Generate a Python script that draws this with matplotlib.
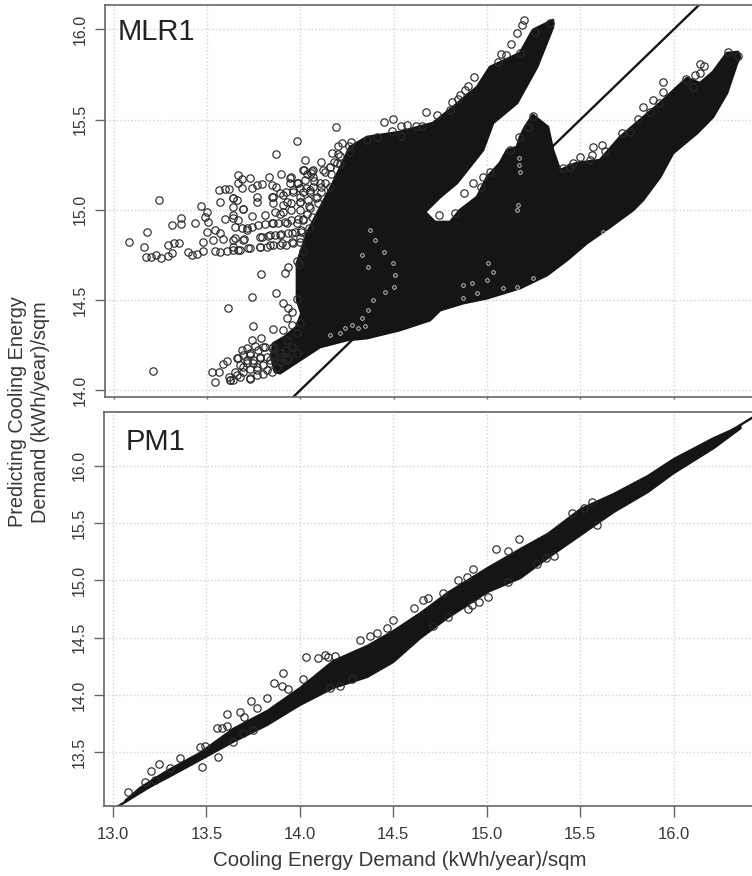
import matplotlib
matplotlib.use("Agg")
import matplotlib.pyplot as plt
import numpy as np

plt.rcParams['font.family'] = ['Liberation Sans', 'DejaVu Sans']

INK = '#151515'
CIRCLE = '#2a2a2a'
TEXT = '#383838'
FRAME = '#666666'

# top panel (MLR1): outline of the solid black part of the cloud
mlr_cloud_x = [13.876, 13.984, 14.092, 14.238, 14.346, 14.524, 14.686, 14.741, 14.865, 14.995, 15.173,
               15.319, 15.427, 15.535, 15.659, 15.784, 15.838, 15.93, 16.0, 16.13, 16.216, 16.292, 16.346,
               16.362, 16.351, 16.292, 16.216, 16.146, 16.076, 16.022, 15.93, 15.822, 15.714, 15.605, 15.481,
               15.389, 15.351, 15.324, 15.243, 15.2, 15.173, 15.157, 15.103, 15.065, 14.995, 14.941, 14.849,
               14.795, 14.714, 14.659, 14.741, 14.832, 14.973, 15.027, 15.157, 15.265, 15.351, 15.351, 15.243,
               15.173, 15.011, 14.941, 14.811, 14.703, 14.524, 14.346, 14.254, 14.162, 14.022, 13.968, 13.968,
               13.992, 13.965, 13.902, 13.839, 13.83, 13.848]
mlr_cloud_y = [14.089, 14.162, 14.235, 14.274, 14.285, 14.33, 14.385, 14.441, 14.48, 14.508, 14.564,
               14.637, 14.721, 14.816, 14.905, 15.0, 15.056, 15.184, 15.318, 15.43, 15.52, 15.654, 15.821,
               15.855, 15.883, 15.877, 15.771, 15.709, 15.737, 15.687, 15.598, 15.503, 15.408, 15.279, 15.263,
               15.223, 15.335, 15.464, 15.531, 15.464, 15.408, 15.352, 15.335, 15.263, 15.184, 15.073, 15.0,
               14.933, 14.933, 14.989, 15.073, 15.151, 15.335, 15.486, 15.598, 15.799, 16.022, 16.061, 16.006,
               15.877, 15.799, 15.687, 15.575, 15.486, 15.436, 15.408, 15.352, 15.151, 14.872, 14.704, 14.497,
               14.423, 14.348, 14.292, 14.255, 14.18, 14.097]

# top panel: single circles that can be told apart
mlr_x = [13.06, 13.157, 13.139, 13.15, 13.177, 13.206, 13.233, 13.272, 13.303, 13.33, 13.272, 13.29, 13.29, 13.341,
         13.341, 13.224, 13.417, 13.449, 13.48, 13.471, 13.489, 13.48, 13.462, 13.462, 13.38, 13.398, 13.426,
         13.525, 13.552, 13.588, 13.624, 13.651, 13.705, 13.516, 13.57, 13.525, 13.552, 13.681, 13.633, 13.579,
         13.624, 13.678, 13.552, 13.624, 13.723, 13.795, 13.696, 13.768, 13.822, 13.876, 13.939, 13.768, 13.822,
         13.885, 13.939, 13.984, 13.75, 13.84, 13.912, 13.984, 13.84, 13.912, 13.966, 14.002, 13.876, 14.02,
         13.773, 13.903, 13.921, 13.966, 13.723, 13.853, 13.597, 13.894, 13.966, 13.728, 13.838, 13.921, 13.939,
         13.912, 13.939, 13.894, 13.725, 13.775, 13.741, 13.786, 13.669, 13.696, 13.588, 13.642, 13.188, 13.507,
         13.548, 13.525, 13.606, 13.66, 13.714, 13.633, 13.678, 13.732, 13.768, 13.822, 13.804, 13.858, 13.714,
         13.876, 13.84, 13.912, 13.966, 13.939, 13.912, 13.966, 13.984, 13.57, 13.6, 13.70, 13.75,
         13.548, 13.579, 13.602, 13.651, 13.669, 13.712, 13.651, 13.669, 13.723, 13.75, 13.78, 13.816, 13.881,
         13.935, 13.831, 13.853, 13.93, 13.966, 14.011, 13.853, 13.966, 14.009, 14.006, 14.051, 14.11, 14.146,
         14.18, 14.191, 14.213, 14.159, 14.188, 14.258, 14.254, 14.436, 14.489, 14.48, 14.53, 14.564, 14.53,
         14.665, 14.611, 14.399, 14.344, 13.624, 13.75, 13.831, 13.894, 13.948, 14.038, 14.092, 14.146, 14.2,
         14.056, 13.984, 14.074,
         14.722, 14.641, 14.803, 14.839, 14.875, 14.893, 14.926, 14.848, 14.794, 15.07, 15.097, 15.055, 15.122,
         15.155, 15.182, 15.196, 15.254, 15.338, 15.173, 15.947, 15.944, 15.893, 15.839, 15.926, 15.875, 15.812,
         15.722, 15.767, 15.614, 15.569, 15.632, 15.50, 15.56, 15.457, 15.403, 15.443, 15.551, 16.146, 16.169,
         16.118, 16.146, 16.073, 16.11, 16.295, 16.353, 15.169, 15.218, 15.245, 15.119, 15.01, 14.974, 14.92,
         14.872, 14.965, 14.735, 14.82]
mlr_y = [14.82, 14.877, 14.792, 14.74, 14.74, 14.749, 14.73, 14.805, 14.814, 14.814, 14.743, 14.758, 14.916, 14.954,
         14.92, 15.056, 14.929, 15.022, 14.991, 14.963, 14.935, 14.879, 14.823, 14.773, 14.767, 14.749, 14.754,
         14.773, 14.767, 14.773, 14.777, 14.777, 14.786, 14.832, 14.836, 14.888, 14.87, 14.836, 14.842, 14.948,
         14.972, 15.004, 15.047, 15.019, 14.967, 14.972, 14.898, 14.851, 14.86, 14.86, 14.87, 14.795, 14.805,
         14.814, 14.823, 14.842, 15.047, 15.037, 15.047, 15.047, 14.926, 14.926, 14.926, 14.944, 14.98, 14.98,
         14.641, 14.646, 14.68, 14.717, 14.516, 14.535, 14.455, 14.479, 14.505, 14.354, 14.333, 14.451, 14.432,
         14.395, 14.358, 14.33, 14.274, 14.283, 14.24, 14.237, 14.218, 14.227, 14.157, 14.171, 14.101, 14.095,
         14.095, 14.041, 14.05, 14.069, 14.06, 14.097, 14.125, 14.144, 14.181, 14.162, 14.106, 14.125, 14.19,
         14.181, 14.237, 14.274, 14.311, 14.237, 14.162, 14.199, 14.367, 14.14, 14.07, 14.16, 14.106,
         15.112, 15.117, 15.117, 15.195, 15.171, 15.18, 15.149, 15.126, 15.121, 15.139, 15.145, 15.186, 15.201,
         15.182, 15.139, 15.13, 15.149, 15.153, 15.167, 15.316, 15.385, 15.279, 15.223, 15.22, 15.223, 15.242,
         15.463, 15.359, 15.372, 15.32, 15.313, 15.38, 15.326, 15.493, 15.508, 15.441, 15.469, 15.478, 15.413,
         15.549, 15.469, 15.409, 15.391, 15.065, 15.071, 15.074, 15.084, 15.102, 15.112, 15.149, 15.13, 15.26,
         15.186, 15.074, 15.074,
         15.531, 15.469, 15.605, 15.618, 15.67, 15.693, 15.741, 15.642, 15.558, 15.871, 15.866, 15.828, 15.927,
         15.99, 16.033, 16.061, 15.996, 16.046, 15.879, 15.713, 15.659, 15.614, 15.577, 15.599, 15.549, 15.506,
         15.428, 15.437, 15.363, 15.35, 15.331, 15.294, 15.307, 15.261, 15.233, 15.242, 15.279, 15.815, 15.806,
         15.754, 15.763, 15.735, 15.689, 15.884, 15.86, 15.406, 15.465, 15.525, 15.335, 15.214, 15.186, 15.149,
         15.098, 15.13, 14.972, 14.983]

# top panel: the crowded streaks left of the black part
streak_x = [13.776, 13.812, 13.848, 13.884, 13.92, 13.956, 13.992,
            13.767, 13.803, 13.839, 13.875, 13.911, 13.947, 13.983,
            13.722, 13.758, 13.794, 13.83, 13.866, 13.902, 13.938, 13.974,
            13.839, 13.875, 13.911, 13.947, 13.983, 14.019, 14.055, 14.1, 13.893, 13.938, 13.983, 14.028, 14.073,
            13.848, 13.893, 13.938, 13.983, 14.037,
            13.623, 13.641, 13.623, 13.65, 13.677, 13.632, 13.668, 13.695, 13.623, 13.677, 13.713, 13.659, 13.623,
            14.055, 14.046, 14.119, 14.146, 14.182, 14.001, 13.929, 13.974,
            13.623, 13.605, 13.641, 13.677, 13.713, 13.749, 13.785, 13.821, 13.713, 13.749, 13.785, 13.83, 13.659,
            13.695, 13.731, 13.767, 13.803, 13.839, 13.875, 13.911, 13.677, 13.713, 13.65, 13.758, 13.794, 13.83,
            13.875, 13.92,
            14.02, 14.06, 14.1, 14.04, 14.0, 14.08, 14.03, 14.0, 14.05, 14.03, 14.15, 14.2, 14.25, 14.12, 14.1,
            14.17, 13.99, 14.0, 13.98]
streak_y = [14.851, 14.855, 14.86, 14.866, 14.87, 14.879, 14.888,
            14.795, 14.795, 14.805, 14.805, 14.805, 14.814, 14.823,
            14.907, 14.916, 14.922, 14.926, 14.929, 14.935, 14.944, 14.948,
            15.075, 15.093, 15.102, 15.112, 15.121, 15.121, 15.13, 15.13, 15.028, 15.037, 15.047, 15.056, 15.065,
            14.991, 14.991, 15.0, 15.0, 15.009,
            15.065, 15.056, 14.954, 14.944, 15.006, 14.907, 14.898, 14.888, 14.832, 14.832, 14.786, 14.777, 14.795,
            15.223, 15.205, 15.214, 15.242, 15.261, 15.223, 15.177, 15.149,
            14.05, 14.05, 14.078, 14.097, 14.115, 14.125, 14.134, 14.143, 14.059, 14.078, 14.087, 14.097, 14.134,
            14.143, 14.162, 14.171, 14.18, 14.19, 14.199, 14.218, 14.19, 14.199, 14.171, 14.218, 14.236, 14.227,
            14.152, 14.171,
            15.2, 15.16, 15.1, 15.1, 15.1, 15.04, 15.02, 14.95, 14.96, 14.9, 15.2, 15.3, 15.36, 15.15, 15.27,
            15.27, 14.88, 14.77, 14.7]

# top panel: thin light seams that run through the black cloud
seam_x = [14.362, 14.389, 14.438, 14.486, 14.497, 14.492, 14.443, 14.378, 14.351, 14.319, 14.265, 14.227, 14.297,
          14.335, 14.2, 14.146, 14.319, 14.351, 14.865, 14.914, 14.995, 15.027, 15.0, 14.941, 14.865, 15.081,
          15.157, 15.243, 15.157, 15.162, 15.622, 15.168, 15.168, 15.173]
seam_y = [14.888, 14.832, 14.765, 14.704, 14.637, 14.57, 14.542, 14.497, 14.441, 14.397, 14.358, 14.341, 14.341,
          14.352, 14.313, 14.302, 14.749, 14.682, 14.581, 14.592, 14.609, 14.654, 14.704, 14.536, 14.508, 14.564,
          14.57, 14.62, 15.0, 15.028, 14.877, 15.291, 15.251, 15.212]

# bottom panel (PM1): edges of the solid band
pm_band_x = [13.062, 13.142, 13.287, 13.464, 13.64, 13.823, 13.999, 14.176, 14.358, 14.498, 14.643, 14.787, 15.002,
             15.178, 15.323, 15.5, 15.677, 15.859, 15.998, 16.212, 16.357]
pm_band_hi = [13.084, 13.197, 13.346, 13.503, 13.712, 13.869, 14.07, 14.305, 14.436, 14.567, 14.724, 14.899, 15.117,
              15.283, 15.414, 15.632, 15.763, 15.92, 16.068, 16.251, 16.356]
pm_band_lo = [13.066, 13.154, 13.276, 13.433, 13.59, 13.738, 13.913, 14.061, 14.157, 14.288, 14.497, 14.672, 14.899,
              15.021, 15.195, 15.396, 15.597, 15.771, 15.937, 16.155, 16.33]

# bottom panel: single circles
pm_x = [13.08, 13.169, 13.205, 13.244, 13.303, 13.357, 13.223, 13.478, 13.562, 13.464, 13.491, 13.557, 13.584, 13.61,
        13.61, 13.682, 13.737, 13.70, 13.826, 13.862, 13.91, 13.907, 13.937, 14.032, 14.098, 14.134, 14.152, 14.187,
        14.018, 14.321, 14.375, 14.411, 14.464, 14.214, 14.277, 14.161, 13.696, 13.643, 13.75, 13.768,
        15.173, 15.05, 15.116, 14.925, 14.848, 14.896, 14.901, 14.919, 14.96, 14.612, 14.66, 14.683, 14.499, 14.767,
        14.714, 15.316, 15.268, 15.357, 15.455, 15.518, 15.562, 15.589, 14.794, 15.116, 15.009]
pm_y = [13.156, 13.237, 13.339, 13.395, 13.36, 13.453, 13.258, 13.371, 13.461, 13.543, 13.555, 13.714, 13.714, 13.831,
        13.729, 13.848, 13.95, 13.81, 13.976, 14.101, 14.194, 14.078, 14.052, 14.331, 14.32, 14.349, 14.328, 14.34,
        14.136, 14.479, 14.514, 14.538, 14.581, 14.081, 14.136, 14.058, 13.665, 13.592, 13.694, 13.883,
        15.362, 15.274, 15.257, 15.103, 15.004, 15.033, 14.751, 14.786, 14.809, 14.757, 14.829, 14.844, 14.655, 14.888,
        14.605, 15.193, 15.141, 15.216, 15.591, 15.635, 15.682, 15.484, 14.684, 14.99, 14.858]

x_ticks = [13.0, 13.5, 14.0, 14.5, 15.0, 15.5, 16.0]
mlr_y_ticks = [14.0, 14.5, 15.0, 15.5, 16.0]
pm_y_ticks = [13.5, 14.0, 14.5, 15.0, 15.5, 16.0]


# the MLR1 values were read against the printed labels, the gridlines sit a little off from those
def fixX(values):
    return 13 + 0.023 + 0.9909 * (np.array(values) - 13)


def fixY(values):
    return 14 + 0.0055 + 0.9925 * (np.array(values) - 14)


def drawCircles(ax, x, y, color=CIRCLE, size=5.3, width=0.85):
    ax.plot(x, y, 'o', ms=size, mfc='none', mec=color, mew=width, zorder=3)


def setupPanel(ax, xlim, ylim, yticks, name, name_x, name_y):
    ax.set_xlim(xlim)
    ax.set_ylim(ylim)
    ax.set_xticks(x_ticks)
    ax.set_yticks(yticks)
    ax.grid(True, color='#d2d2d2', linestyle=':', linewidth=1.0)
    ax.set_axisbelow(True)
    for side in ['top', 'bottom', 'left']:
        ax.spines[side].set_color(FRAME)
        ax.spines[side].set_linewidth(1.2)
    ax.spines['right'].set_visible(False)
    ax.tick_params(axis='y', length=7.2, width=1, color=FRAME, labelcolor=TEXT, labelsize=11.5, pad=5)
    for label in ax.get_yticklabels():
        label.set_rotation(90)
        label.set_verticalalignment('center')
    ax.text(name_x, name_y, name, transform=ax.transAxes, fontsize=21, color='#222222', ha='left', va='center')


W, H = 752.0, 876.0
fig = plt.figure(figsize=(W / 100, H / 100), dpi=100)

# top panel
ax1 = fig.add_axes([104.7 / W, 1 - 397.3 / H, (W - 104.7) / W, 392.3 / H])
xlim = (12.952, 16.419)
ax1.plot(xlim, xlim, color=INK, lw=1.7, zorder=2)
ax1.fill(fixX(mlr_cloud_x), fixY(mlr_cloud_y), fc=INK, ec=INK, lw=2.0, joinstyle='round', zorder=3)
drawCircles(ax1, fixX(mlr_x), fixY(mlr_y))
drawCircles(ax1, fixX(streak_x), fixY(streak_y))
ax1.plot(fixX(seam_x), fixY(seam_y), 'o', ms=2.6, mfc='none', mec='#dddddd', mew=0.6, zorder=4)
setupPanel(ax1, xlim, (13.96, 16.135), mlr_y_ticks, 'MLR1', 0.02, 0.93)
ax1.tick_params(axis='x', length=1.5, width=1, color=FRAME, labelbottom=False)

# bottom panel
ax2 = fig.add_axes([104.0 / W, 1 - 806.0 / H, (W - 104.0) / W, 394.0 / H])
ax2.plot(xlim, xlim, color=INK, lw=1.7, zorder=2)
ax2.fill_between(pm_band_x, pm_band_lo, pm_band_hi, fc=INK, ec=INK, lw=1.0, joinstyle='round', zorder=3)
drawCircles(ax2, pm_x, pm_y)
setupPanel(ax2, xlim, (13.03, 16.47), pm_y_ticks, 'PM1', 0.033, 0.925)
ax2.tick_params(axis='x', length=8, width=1, color=FRAME, labelcolor=TEXT, labelsize=12, pad=7)

fig.text(400 / W, 1 - 860 / H, 'Cooling Energy Demand (kWh/year)/sqm', fontsize=14.8, color=TEXT, ha='center', va='center')
fig.text(29 / W, 1 - 412 / H, 'Predicting Cooling Energy\nDemand (kWh/year)/sqm', fontsize=14.3, color=TEXT,
         rotation=90, ha='center', va='center', linespacing=1.3, multialignment='center')

fig.savefig('out.png', dpi=100)
